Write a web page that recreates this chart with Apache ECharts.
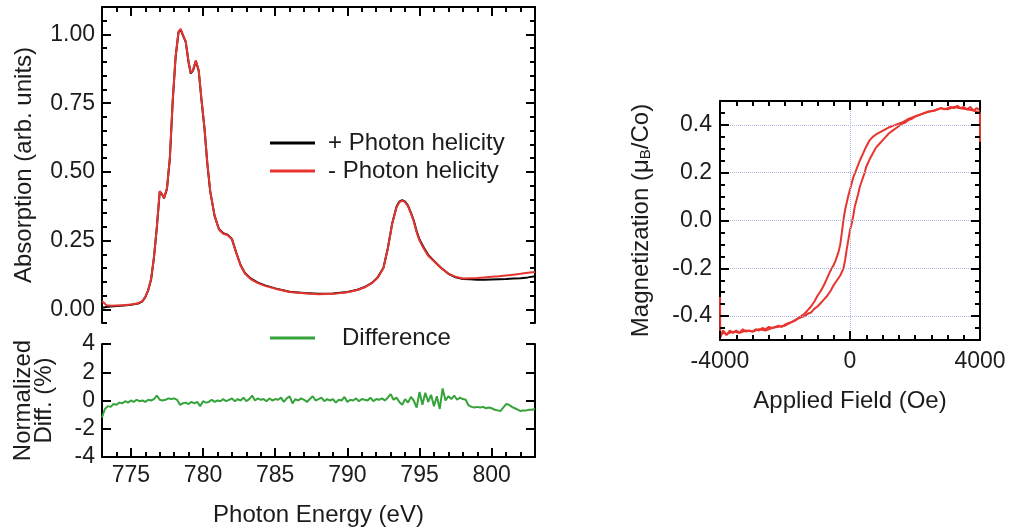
<!DOCTYPE html>
<html><head><meta charset="utf-8">
<script src="https://cdn.jsdelivr.net/npm/echarts@6/dist/echarts.min.js"></script>
<style>html,body{margin:0;padding:0;background:#fff}#c{width:1011px;height:531px}</style>
</head><body><div id="c"></div>
<script>
// ---------- data ----------
const energyRange = [773, 803];
const absRange = [-0.05, 1.1];
const diffRange = [-4, 4];
const fieldRange = [-4000, 4000];
const magRange = [-0.5, 0.5];
const energyTicks = [775, 780, 785, 790, 795, 800];
const absTicks = [0, 0.25, 0.5, 0.75, 1.0];
const diffTicks = [-4, -2, 0, 2, 4];
const fieldTicks = [-4000, 0, 4000];
const magTicks = [-0.4, -0.2, 0, 0.2, 0.4];
const magGridValues = [-0.4, -0.2, 0, 0.2, 0.4];
const fieldGridValues = [0];

// "- Photon helicity" (red)
const absMinus = [
 [773.0,0.030],[773.3,0.015],[773.6,0.013],[774.0,0.014],[774.5,0.015],[775.0,0.017],[775.5,0.022],[775.8,0.030],
 [776.0,0.045],[776.2,0.070],[776.4,0.110],[776.6,0.190],[776.8,0.300],[777.0,0.430],[777.15,0.420],[777.3,0.405],
 [777.5,0.440],[777.7,0.550],[777.9,0.760],[778.1,0.920],[778.3,1.010],[778.45,1.020],[778.6,1.000],[778.8,0.975],
 [779.0,0.900],[779.15,0.860],[779.3,0.870],[779.5,0.905],[779.7,0.870],[779.9,0.760],[780.1,0.660],[780.3,0.530],
 [780.5,0.430],[780.8,0.340],[781.1,0.290],[781.4,0.275],[781.7,0.270],[782.0,0.255],[782.3,0.205],[782.6,0.160],
 [782.9,0.130],[783.3,0.110],[783.8,0.095],[784.3,0.085],[785.0,0.075],[786.0,0.063],[787.0,0.058],[788.0,0.055],
 [789.0,0.056],[790.0,0.062],[790.7,0.070],[791.2,0.080],[791.7,0.095],[792.1,0.115],[792.5,0.150],[792.8,0.220],
 [793.1,0.310],[793.4,0.370],[793.6,0.390],[793.8,0.395],[794.0,0.390],[794.2,0.375],[794.4,0.350],[794.6,0.320],
 [794.8,0.280],[795.0,0.250],[795.3,0.220],[795.6,0.195],[796.0,0.175],[796.5,0.150],[797.0,0.130],[797.5,0.118],
 [798.0,0.112],[798.5,0.113],[799.0,0.114],[799.5,0.116],[800.0,0.118],[800.5,0.120],[801.0,0.123],[801.5,0.126],
 [802.0,0.129],[802.5,0.133],[803.0,0.136]
];
// "+ Photon helicity" (black)
const absPlus = [
 [773.0,0.005],[773.3,0.008],[773.6,0.010],[774.0,0.012],[774.5,0.014],[775.0,0.016],[775.5,0.021],[775.8,0.029],
 [776.0,0.044],[776.2,0.069],[776.4,0.108],[776.6,0.188],[776.8,0.298],[777.0,0.428],[777.15,0.419],[777.3,0.404],
 [777.5,0.438],[777.7,0.548],[777.9,0.758],[778.1,0.918],[778.3,1.008],[778.45,1.018],[778.6,0.998],[778.8,0.973],
 [779.0,0.898],[779.15,0.858],[779.3,0.868],[779.5,0.903],[779.7,0.868],[779.9,0.758],[780.1,0.658],[780.3,0.528],
 [780.5,0.428],[780.8,0.340],[781.1,0.292],[781.4,0.277],[781.7,0.271],[782.0,0.256],[782.3,0.206],[782.6,0.161],
 [782.9,0.132],[783.3,0.112],[783.8,0.097],[784.3,0.087],[785.0,0.076],[786.0,0.064],[787.0,0.059],[788.0,0.056],
 [789.0,0.057],[790.0,0.063],[790.7,0.071],[791.2,0.081],[791.7,0.096],[792.1,0.116],[792.5,0.151],[792.8,0.221],
 [793.1,0.311],[793.4,0.372],[793.6,0.392],[793.8,0.397],[794.0,0.392],[794.2,0.377],[794.4,0.352],[794.6,0.323],
 [794.8,0.284],[795.0,0.254],[795.3,0.224],[795.6,0.198],[796.0,0.176],[796.5,0.150],[797.0,0.129],[797.5,0.116],
 [798.0,0.110],[798.5,0.109],[799.0,0.107],[799.5,0.107],[800.0,0.108],[800.5,0.109],[801.0,0.110],[801.5,0.112],
 [802.0,0.113],[802.5,0.116],[803.0,0.120]
];
// Normalized difference (%)
const difference = [
 [773.0,-1.2],[773.2,-0.6],[773.4,-0.4],[773.6,-0.45],[773.8,-0.25],[774.0,-0.3],[774.2,-0.15],[774.4,-0.2],
 [774.6,-0.05],[774.8,-0.15],[775.0,0.0],[775.2,-0.1],[775.4,0.05],[775.6,-0.05],[775.8,0.0],[776.0,-0.1],
 [776.2,0.05],[776.4,0.0],[776.6,0.1],[776.8,0.35],[777.0,0.05],[777.2,0.0],[777.4,0.05],[777.6,0.15],
 [777.8,0.1],[778.0,0.15],[778.2,0.05],[778.4,-0.3],[778.6,-0.2],[778.8,-0.15],[779.0,-0.25],[779.2,-0.1],
 [779.4,-0.2],[779.6,-0.1],[779.8,-0.4],[780.0,-0.05],[780.2,-0.15],[780.4,-0.1],[780.6,0.05],[780.8,-0.1],
 [781.0,0.0],[781.2,-0.05],[781.4,0.1],[781.6,-0.05],[781.8,0.05],[782.0,0.15],[782.2,-0.05],[782.4,0.1],
 [782.6,0.0],[782.8,0.2],[783.0,-0.05],[783.2,0.1],[783.4,0.35],[783.6,0.0],[783.8,0.15],[784.0,0.05],
 [784.2,0.1],[784.4,-0.05],[784.6,0.15],[784.8,0.0],[785.0,0.1],[785.2,0.05],[785.4,0.2],[785.6,-0.1],
 [785.8,0.15],[786.0,0.3],[786.2,-0.2],[786.4,0.1],[786.6,0.0],[786.8,0.15],[787.0,0.05],[787.2,-0.1],
 [787.4,0.1],[787.6,0.3],[787.8,0.0],[788.0,0.1],[788.2,0.2],[788.4,-0.05],[788.6,0.1],[788.8,0.0],
 [789.0,0.1],[789.2,-0.15],[789.4,0.05],[789.6,0.0],[789.8,0.25],[790.0,-0.1],[790.2,0.05],[790.4,0.0],
 [790.6,0.15],[790.8,-0.05],[791.0,0.1],[791.2,0.05],[791.4,0.0],[791.6,0.2],[791.8,-0.05],[792.0,0.1],
 [792.2,0.05],[792.4,0.15],[792.6,0.0],[792.8,0.2],[793.0,0.45],[793.2,0.05],[793.4,0.2],[793.6,-0.1],
 [793.8,-0.3],[794.0,0.1],[794.2,-0.15],[794.4,0.25],[794.6,0.0],[794.8,-0.5],[795.0,0.6],[795.2,-0.3],
 [795.4,0.55],[795.6,-0.1],[795.8,0.4],[796.0,-0.4],[796.2,0.3],[796.4,-0.6],[796.6,0.85],[796.8,0.0],
 [797.0,0.3],[797.2,0.1],[797.4,0.35],[797.6,0.05],[797.8,0.2],[798.0,0.1],[798.2,0.05],[798.4,-0.35],
 [798.6,-0.45],[798.8,-0.5],[799.0,-0.45],[799.2,-0.5],[799.4,-0.45],[799.6,-0.55],[799.8,-0.5],[800.0,-0.55],
 [800.2,-0.65],[800.4,-0.7],[800.6,-0.75],[800.8,-0.5],[801.0,-0.25],[801.2,-0.3],[801.4,-0.45],[801.6,-0.55],
 [801.8,-0.65],[802.0,-0.75],[802.2,-0.7],[802.4,-0.7],[802.6,-0.65],[802.8,-0.65],[803.0,-0.6]
];
// Hysteresis loop: ascending-field branch
const loopAscending = [
 [-4000,-0.32],[-3990,-0.49],[-3900,-0.46],[-3800,-0.48],[-3700,-0.46],[-3600,-0.47],[-3500,-0.46],[-3400,-0.47],
 [-3300,-0.455],[-3200,-0.465],[-3100,-0.46],[-3000,-0.465],[-2900,-0.455],[-2800,-0.46],[-2700,-0.45],[-2600,-0.455],
 [-2500,-0.445],[-2400,-0.45],[-2300,-0.445],[-2200,-0.44],[-2100,-0.445],[-2000,-0.435],[-1900,-0.43],[-1800,-0.425],
 [-1700,-0.42],[-1600,-0.41],[-1500,-0.405],[-1400,-0.40],[-1300,-0.39],[-1200,-0.385],[-1100,-0.37],[-1000,-0.36],
 [-900,-0.345],[-800,-0.33],[-700,-0.315],[-600,-0.295],[-500,-0.27],[-400,-0.25],[-300,-0.23],[-200,-0.20],
 [-150,-0.165],[-100,-0.12],[-50,-0.08],[0,-0.04],[50,-0.015],[100,0.02],[150,0.06],[200,0.085],
 [250,0.11],[300,0.14],[350,0.16],[400,0.18],[450,0.20],[500,0.225],[600,0.255],[700,0.28],
 [800,0.305],[900,0.32],[1000,0.335],[1100,0.35],[1200,0.365],[1300,0.375],[1400,0.385],[1500,0.395],
 [1600,0.405],[1700,0.41],[1800,0.42],[1900,0.425],[2000,0.435],[2200,0.445],[2400,0.455],[2600,0.46],
 [2800,0.47],[3000,0.465],[3200,0.475],[3400,0.47],[3600,0.465],[3800,0.46],[3900,0.455],[4000,0.45],[4000,0.33]
];
// Hysteresis loop: descending-field branch
const loopDescending = [
 [4000,0.46],[3900,0.47],[3800,0.46],[3700,0.475],[3600,0.465],[3500,0.475],[3400,0.47],[3300,0.48],
 [3200,0.47],[3100,0.475],[3000,0.47],[2900,0.465],[2800,0.47],[2600,0.46],[2400,0.455],[2200,0.445],
 [2000,0.435],[1800,0.425],[1600,0.41],[1400,0.40],[1200,0.39],[1000,0.375],[800,0.36],[700,0.35],
 [600,0.335],[500,0.31],[400,0.28],[300,0.25],[200,0.215],[100,0.18],[50,0.155],[0,0.13],
 [-50,0.105],[-100,0.075],[-150,0.045],[-200,0.005],[-250,-0.05],[-300,-0.10],[-350,-0.13],[-400,-0.15],
 [-450,-0.17],[-500,-0.185],[-600,-0.21],[-700,-0.24],[-800,-0.27],[-900,-0.295],[-1000,-0.315],[-1100,-0.34],
 [-1200,-0.36],[-1300,-0.375],[-1400,-0.39],[-1500,-0.40],[-1600,-0.41],[-1800,-0.425],[-2000,-0.44],[-2200,-0.445],
 [-2400,-0.45],[-2600,-0.46],[-2800,-0.455],[-3000,-0.465],[-3200,-0.46],[-3400,-0.47],[-3600,-0.465],[-3800,-0.475],
 [-3900,-0.47],[-4000,-0.48]
];

// ---------- styling / layout ----------
const FONT = '"Liberation Sans", Arial, Helvetica, sans-serif';
const INK = '#1c1c1c';
const RED = '#e8342f';
const GREEN = '#35a33a';
const G_ABS = { left: 102, top: 7, width: 433, height: 316 };
const G_DIFF = { left: 102, top: 344, width: 433, height: 113 };
const G_LOOP = { left: 720, top: 101, width: 260, height: 239 };
const MAJOR = 9, MINOR = 5;

const axLine = { show: true, onZero: false, lineStyle: { color: '#000', width: 2 } };
const noLabel = { show: false };
function label(custom, fmt, margin) {
  const l = { show: true, fontSize: 23, color: INK, fontFamily: FONT, margin: margin };
  if (custom) l.customValues = custom;
  if (fmt) l.formatter = fmt;
  return l;
}
const nameStyle = { fontSize: 24, color: INK, fontFamily: FONT };
function A(o) { return Object.assign({ type: 'value', splitLine: { show: false }, axisTick: { show: false }, minorTick: { show: false } }, o); }

function steps(a, b, s) { const out = []; for (let i = 0; a + i * s <= b + 1e-9; i++) out.push(+(a + i * s).toFixed(6)); return out; }
const energyMinor = steps(773, 803, 1);
const absMinor = steps(-0.05, 1.1, 0.05);
const fieldMinor = steps(-4000, 4000, 500);
const magMinor = steps(-0.5, 0.5, 0.05);

const grids = [G_ABS, G_DIFF, G_LOOP];
const xAxes = [
  A({ gridIndex: 0, position: 'top', min: energyRange[0], max: energyRange[1], axisLine: axLine, axisLabel: noLabel }),
  A({ gridIndex: 1, position: 'bottom', min: energyRange[0], max: energyRange[1], axisLine: axLine,
      axisLabel: label(energyTicks, v => String(v), 7),
      name: 'Photon Energy (eV)', nameLocation: 'middle', nameGap: 46, nameTextStyle: nameStyle }),
  A({ gridIndex: 2, position: 'bottom', min: fieldRange[0], max: fieldRange[1], interval: 4000, axisLine: axLine,
      axisLabel: label(fieldTicks, v => String(v), 10),
      name: 'Applied Field (Oe)', nameLocation: 'middle', nameGap: 49, nameTextStyle: nameStyle }),
  A({ gridIndex: 2, position: 'top', min: fieldRange[0], max: fieldRange[1], interval: 4000, axisLine: axLine, axisLabel: noLabel })
];
const yAxes = [
  A({ gridIndex: 0, position: 'left', min: absRange[0], max: absRange[1], axisLine: axLine,
      axisLabel: label(absTicks, v => v.toFixed(2), 7),
      name: 'Absorption (arb. units)', nameLocation: 'middle', nameGap: 66, nameTextStyle: nameStyle }),
  A({ gridIndex: 0, position: 'right', min: absRange[0], max: absRange[1], axisLine: axLine, axisLabel: noLabel }),
  A({ gridIndex: 1, position: 'left', min: diffRange[0], max: diffRange[1], interval: 2, axisLine: axLine,
      axisLabel: label(diffTicks, v => String(v), 7),
      name: 'Normalized\nDiff. (%)', nameLocation: 'middle', nameGap: 47,
      nameTextStyle: Object.assign({}, nameStyle, { lineHeight: 21 }) }),
  A({ gridIndex: 1, position: 'right', min: diffRange[0], max: diffRange[1], interval: 2, axisLine: axLine, axisLabel: noLabel }),
  A({ gridIndex: 2, position: 'left', min: magRange[0], max: magRange[1], axisLine: axLine,
      axisLabel: label(magTicks, v => v.toFixed(1), 8),
      name: 'Magnetization (μ{s|B}/Co)', nameLocation: 'middle', nameGap: 67,
      nameTextStyle: Object.assign({}, nameStyle, { lineHeight: 24,
        rich: { s: { fontSize: 15, lineHeight: 15, verticalAlign: 'bottom', color: INK, fontFamily: FONT } } }) }),
  A({ gridIndex: 2, position: 'right', min: magRange[0], max: magRange[1], axisLine: axLine, axisLabel: noLabel })
];

const lineSeries = (name, data, color, xi, yi, z) => ({
  name, type: 'line', data, xAxisIndex: xi, yAxisIndex: yi, symbol: 'none', z: z || 2,
  lineStyle: { color, width: 2 }, itemStyle: { color }, animation: false
});
const markSeries = (xi, yi, z, lineStyle, data) => ({
  type: 'line', data: [], xAxisIndex: xi, yAxisIndex: yi, z: z, silent: true, animation: false,
  markLine: { silent: true, symbol: 'none', label: { show: false }, emphasis: { disabled: true }, animation: false,
    lineStyle: lineStyle, data: data }
});
const tickStyle = { type: 'solid', color: '#000', width: 2 };
const gridMarks = [].concat(magGridValues.map(v => ({ yAxis: v })), fieldGridValues.map(v => ({ xAxis: v })));

const series = [
  lineSeries('+ Photon helicity', absPlus, '#000', 0, 0),
  lineSeries('- Photon helicity', absMinus, RED, 0, 0, 3),
  lineSeries('Difference', difference, GREEN, 1, 2),
  markSeries(2, 4, 1, { type: 'dotted', color: '#a9b6e6', width: 1 }, gridMarks),
  lineSeries('loop ascending', loopAscending, RED, 2, 4, 3),
  lineSeries('loop descending', loopDescending, RED, 2, 4, 3)
];

// Tick strips: a thin grid along one edge of a panel, sharing that panel's axis range;
// each tick is a full-height mark line of the strip at the tick value.
function strip(g, side, len, range, values) {
  let rect;
  if (side === 'top') rect = { left: g.left, top: g.top, width: g.width, height: len };
  else if (side === 'bottom') rect = { left: g.left, top: g.top + g.height - len, width: g.width, height: len };
  else if (side === 'left') rect = { left: g.left, top: g.top, width: len, height: g.height };
  else rect = { left: g.left + g.width - len, top: g.top, width: len, height: g.height };
  const gi = grids.length;
  grids.push(rect);
  const vertical = side === 'top' || side === 'bottom';
  const xi = xAxes.length, yi = yAxes.length;
  xAxes.push(A({ gridIndex: gi, show: false, min: vertical ? range[0] : 0, max: vertical ? range[1] : 1 }));
  yAxes.push(A({ gridIndex: gi, show: false, min: vertical ? 0 : range[0], max: vertical ? 1 : range[1] }));
  series.push(markSeries(xi, yi, 4, tickStyle, values.map(v => vertical ? { xAxis: v } : { yAxis: v })));
}
// absorption panel
strip(G_ABS, 'top', MINOR, energyRange, energyMinor);
strip(G_ABS, 'top', MAJOR, energyRange, energyTicks);
strip(G_ABS, 'left', MINOR, absRange, absMinor);
strip(G_ABS, 'left', MAJOR, absRange, absTicks);
strip(G_ABS, 'right', MINOR, absRange, absMinor);
strip(G_ABS, 'right', MAJOR, absRange, absTicks);
// difference panel
strip(G_DIFF, 'bottom', MINOR, energyRange, energyMinor);
strip(G_DIFF, 'bottom', MAJOR, energyRange, energyTicks);
strip(G_DIFF, 'left', MAJOR, diffRange, diffTicks);
strip(G_DIFF, 'right', MAJOR, diffRange, diffTicks);
// hysteresis panel
strip(G_LOOP, 'bottom', MINOR, fieldRange, fieldMinor);
strip(G_LOOP, 'bottom', MAJOR, fieldRange, fieldTicks);
strip(G_LOOP, 'top', MINOR, fieldRange, fieldMinor);
strip(G_LOOP, 'top', MAJOR, fieldRange, fieldTicks);
strip(G_LOOP, 'left', MINOR, magRange, magMinor);
strip(G_LOOP, 'left', MAJOR, magRange, magTicks);
strip(G_LOOP, 'right', MINOR, magRange, magMinor);
strip(G_LOOP, 'right', MAJOR, magRange, magTicks);

const option = {
  backgroundColor: '#fff',
  animation: false,
  grid: grids,
  xAxis: xAxes,
  yAxis: yAxes,
  legend: [
    { data: ['+ Photon helicity', '- Photon helicity'], left: 270, top: 129, orient: 'vertical', padding: 0,
      icon: 'rect', itemWidth: 45, itemHeight: 3, itemGap: 0, selectedMode: false,
      textStyle: { fontSize: 24, color: INK, fontFamily: FONT, lineHeight: 28, padding: [0, 0, 0, 8] } },
    { data: ['Difference'], left: 270, top: 324, orient: 'vertical', padding: 0,
      icon: 'rect', itemWidth: 45, itemHeight: 3, selectedMode: false,
      textStyle: { fontSize: 24, color: INK, fontFamily: FONT, lineHeight: 28, padding: [0, 0, 0, 22] } }
  ],
  series: series
};
const chart = echarts.init(document.getElementById('c'), null, { renderer: 'canvas' });
chart.setOption(option);
</script>
</body></html>
